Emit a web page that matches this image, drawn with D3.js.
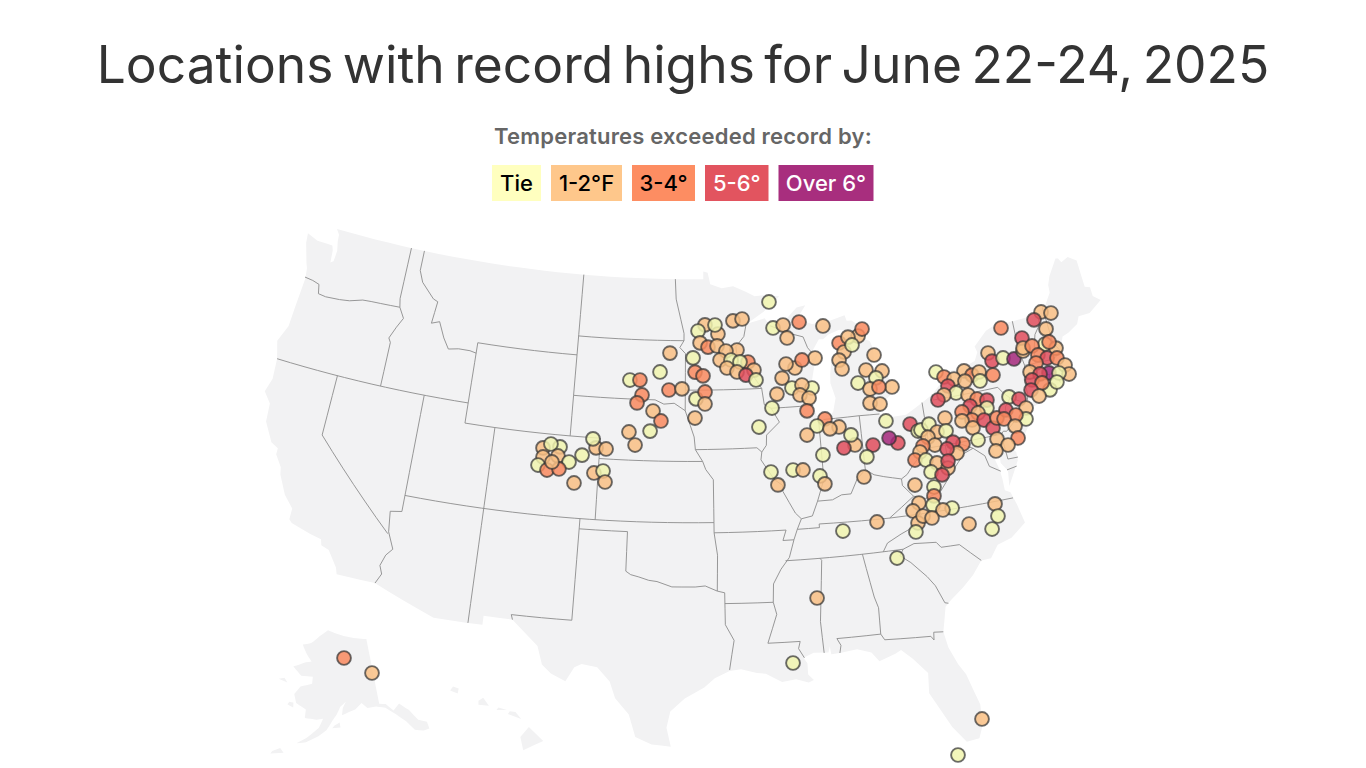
<!DOCTYPE html>
<html>
<head>
<meta charset="utf-8">
<script src="https://cdn.jsdelivr.net/npm/d3@7"></script>
<style>
  html, body { margin: 0; background: #fff; overflow: hidden; }
  text { font-family: Inter, "Noto Sans", sans-serif; }
</style>
</head>
<body>
<svg id="chart" width="1366" height="768"></svg>
<script>
const legendLabels = ["Tie", "1-2°F", "3-4°", "5-6°", "Over 6°"];
const legendColors = ["#ffffbf", "#fec78b", "#fd8d62", "#e2545f", "#a82e7e"];
const legendInk = ["#000", "#000", "#000", "#fff", "#fff"];
// dots sit on the grey land and read a touch darker than the legend chips
const dotColors = ["#f1f5ae", "#f9bf84", "#f98a5e", "#e04e5c", "#a5287a"];

const lower48Coast = [[-124.73,48.38],[-123.9,48.16],[-123.15,48.15],[-122.75,48.14],[-122.62,47.9],[-122.55,47.3],[-122.35,47.4],[-122.3,47.95],[-122.45,48.4],[-122.5,48.75],[-122.76,49],
[-95.15,49],[-95.15,49.38],[-94.82,49.32],[-94.64,48.74],[-93.8,48.53],[-92.95,48.62],[-92,48.3],[-91.4,48.07],[-90.75,48.1],[-89.6,48],
[-90.8,47.28],[-92.05,46.72],[-91.2,46.87],[-90.75,46.95],[-90.4,46.57],[-89.2,46.85],[-88.4,47.38],[-87.75,47.45],[-88.45,46.8],[-87.4,46.5],[-86.5,46.5],[-85.5,46.68],[-85,46.77],[-84.9,46.48],[-84.55,46.46],[-84.1,46.2],[-83.9,45.97],[-84.7,45.95],[-85.5,46.08],[-86.3,45.9],[-86.7,45.7],[-87,45.72],[-87.6,45.1],[-88,44.55],[-87.35,44.9],[-87.05,45.25],[-87.5,44.4],[-87.75,43.7],[-87.9,43.05],[-87.8,42.5],[-87.6,41.85],[-87.4,41.63],[-86.9,41.72],[-86.5,42.1],[-86.25,42.75],[-86.5,43.5],[-86.45,43.95],[-86.25,44.7],[-85.95,44.9],[-85.6,45],[-85.35,45.3],[-85.05,45.6],[-84.75,45.78],[-84.2,45.63],[-83.45,45.35],[-83.3,45],[-83.3,44.4],[-83.85,43.95],[-83.9,43.65],[-83.4,43.95],[-82.95,44.07],[-82.6,43.85],[-82.42,43],[-82.5,42.6],[-83.1,42.25],[-83.45,41.72],[-82.7,41.5],[-81.7,41.5],[-80.5,41.97],[-79.76,42.27],[-78.9,42.85],[-79.05,43.27],[-77.5,43.27],[-76.5,43.5],[-76.2,43.9],[-76.3,44.2],[-75.3,44.85],[-74.7,45],[-71.5,45.01],[-71.4,45.25],[-71,45.3],[-70.8,45.4],[-70.3,45.9],[-70.25,46.3],[-70,46.7],[-69.23,47.46],[-69.05,47.42],[-68.9,47.2],[-68.35,47.36],[-67.8,47.07],[-67.8,45.7],[-67.45,45.6],[-67.45,45.15],[-67,44.85],
[-68,44.4],[-68.8,44.4],[-69.05,44.05],[-69.8,43.75],[-70.25,43.65],[-70.6,43.1],[-70.8,42.85],[-70.6,42.65],[-71,42.3],[-70.65,41.95],[-70,41.8],[-70,42.05],[-70.2,42.07],[-69.95,41.67],[-70.65,41.55],[-71.15,41.5],[-71.4,41.45],[-71.85,41.32],[-72.9,41.25],[-73.65,40.98],[-74,40.7],[-73.75,40.85],[-72.6,40.98],[-72.3,41.15],[-71.87,41.07],[-72.5,40.82],[-73.9,40.58],[-74,40.45],[-74,39.75],[-74.4,39.35],[-74.9,38.93],[-75.15,39.2],[-75.55,39.6],[-75.4,39.1],[-75.08,38.7],[-75.1,38.3],[-75.97,37.15],[-75.85,37.9],[-76.2,38.35],[-76.1,39.35],[-76.45,39.2],[-76.5,38.5],[-76.35,38.05],[-76.3,37.55],[-76.3,37],[-75.98,36.85],[-75.75,36.2],[-75.5,35.25],[-76.5,34.65],[-77.4,34.45],[-77.95,33.87],[-78.55,33.85],[-79.2,33.2],[-79.9,32.7],[-80.7,32.2],[-81.1,31.9],[-81.3,31.2],[-81.45,30.7],[-81.3,29.9],[-80.9,29],[-80.55,28.45],[-80.05,26.85],[-80.12,25.8],[-80.4,25.2],[-81.1,25.13],[-81.75,25.95],[-82.15,26.7],[-82.75,27.8],[-82.65,28.8],[-83.4,29.6],[-84,30.1],[-84.35,29.95],[-85.3,29.68],[-85.7,30.15],[-86.5,30.38],[-87.5,30.28],[-88,30.25],[-88.05,30.65],[-88.15,30.35],[-89,30.4],[-89.6,30.18],[-89.4,29.9],[-89.4,29.35],[-89.1,29.05],[-89.4,28.95],[-90.1,29.15],[-90.9,29.05],[-91.8,29.5],[-92.3,29.55],[-93.2,29.77],[-93.85,29.7],[-94.7,29.35],[-95.3,28.9],[-96.4,28.35],[-97.2,27.7],[-97.4,26.9],[-97.15,25.95],
[-98.2,26.05],[-99.1,26.4],[-99.5,27.5],[-100.3,28.28],[-100.65,29.1],[-101.4,29.77],[-102.3,29.88],[-102.7,29.7],[-103.15,28.98],[-104,29.3],[-104.55,29.7],[-104.9,30.6],[-106.5,31.76],[-108.2,31.78],[-108.2,31.33],[-111.07,31.33],[-114.81,32.5],[-117.12,32.53],
[-117.25,32.85],[-117.9,33.6],[-118.4,33.75],[-118.5,34.03],[-119.2,34.15],[-120.45,34.45],[-120.65,34.6],[-120.65,35.15],[-121.3,35.7],[-121.9,36.6],[-122,36.95],[-122.5,37.5],[-122.5,37.8],[-123,38],[-123.7,38.9],[-123.8,39.8],[-124.35,40.3],[-124.1,41],[-124.2,42],[-124.55,42.85],[-124.1,43.7],[-124.05,44.7],[-123.95,46.2],[-124.05,46.7],[-124.2,46.95],[-124.65,47.9]];

const alaskaCoast = [[-130,55],[-130,56],[-131.9,56.7],[-133.4,58.4],[-135.5,59.7],[-137.5,58.95],[-139.2,60.1],[-141,60.3],[-141,69.65],[-145,70],[-150,70.5],[-156.6,71.35],[-160,70.4],[-163,69.3],[-166.2,68.9],[-164,67.6],[-162,66.7],[-164,66.5],[-168,65.6],[-164.8,64.5],[-161,64.6],[-161,63.6],[-164.5,63],[-166,61.8],[-165,60.6],[-162,59.9],[-162,58.7],[-158.8,58.6],[-157,58.8],[-158,57.5],[-161,55.9],[-163.3,55],[-161,55.3],[-158,56.3],[-156,57.2],[-154.5,58.5],[-153.3,59.4],[-152.2,60.5],[-150.5,61.2],[-151.5,60.3],[-151.8,59.3],[-149.8,59.7],[-148,60],[-146,60.8],[-144.5,60],[-142,60],[-139.5,59.6],[-137,58.3],[-135,57],[-133.5,55.5],[-131.5,55]];
const otherIslands = [
  [[-154.5,57.5],[-152.3,57.6],[-152.5,58.3],[-153.8,57.9]],
  [[-167.4,60.2],[-165.6,59.9],[-165.8,60.6],[-167,60.6]],
  [[-171.7,63.4],[-168.8,63.2],[-170,63.75]],
  [[-169,52.9],[-166,53.4],[-167,53.95],[-168.7,53.3]],
  [[-155.9,19.1],[-154.85,19.55],[-155.6,20.25],[-156.05,19.75]],
  [[-156.7,20.9],[-156,20.65],[-156.3,21],[-156.6,21.03]],
  [[-157.3,21.1],[-156.75,21.1],[-157.2,21.22]],
  [[-158.25,21.35],[-157.7,21.3],[-158,21.7],[-158.25,21.55]],
  [[-159.75,22.05],[-159.35,21.9],[-159.3,22.15],[-159.6,22.25]]
];

const stateBorders = [
  [[-124,46.25],[-123.4,46.2],[-122.9,46.1],[-122.75,45.65],[-122.2,45.6],[-121.2,45.65],[-120.5,45.72],[-119.6,45.92],[-119,45.95],[-116.92,46]],
  [[-117.04,49],[-117.04,46.42],[-116.92,46],[-116.5,45.5],[-116.85,45],[-117.2,44.4],[-117.03,44.2],[-117.03,42]],
  [[-124.2,42],[-111.05,42]],
  [[-116.05,49],[-116.05,48],[-115.7,47.45],[-114.7,46.75],[-114.35,46.65],[-114.5,45.55],[-113.95,45.7],[-113.45,44.95],[-113,44.45],[-112.3,44.55],[-111.5,44.55],[-111.05,44.48]],
  [[-111.05,45],[-104.05,45]],[[-111.05,45],[-111.05,41],[-104.05,41]],
  [[-104.05,49],[-104.05,41]],[[-104.05,45.94],[-96.56,45.94]],
  [[-104.05,43],[-98.5,43],[-97.9,42.8],[-97.2,42.85],[-96.45,42.49]],
  [[-104.05,41],[-102.05,41],[-102.05,37]],[[-102.05,40],[-95.3,40]],
  [[-114.04,42],[-114.04,36.2],[-114.75,36.1],[-114.6,35.1],[-114.15,34.3],[-114.5,33.95],[-114.72,33.4],[-114.52,33],[-114.8,32.5]],
  [[-109.05,41],[-109.05,31.33]],[[-114.04,37],[-94.62,37]],
  [[-120,42],[-120,39],[-114.63,35]],
  [[-103,37],[-103.04,32],[-106.6,32],[-106.5,31.76]],
  [[-103,36.5],[-100,36.5],[-100,34.56],[-99.7,34.4],[-99.2,34.3],[-98.6,34.15],[-98.1,34.1],[-97.2,33.85],[-96.6,33.85],[-95.8,33.85],[-95.2,33.9],[-94.48,33.64]],
  [[-94.62,37],[-94.62,36.5],[-94.43,35.4],[-94.48,33.64],[-94.04,33.55],[-94.04,31.98],[-93.55,31.2],[-93.7,30.5],[-93.85,29.75]],
  [[-94.04,33.02],[-91.17,33]],[[-94.62,36.5],[-90.15,36.5],[-90.38,36],[-89.7,36]],
  [[-94.62,37],[-94.62,39.1],[-95.1,39.6],[-95.3,40],[-95.77,40.58],[-95.85,41.2],[-96.1,41.75],[-96.45,42.49],[-96.45,45.3],[-96.85,45.6],[-96.56,45.94],[-96.56,46.3],[-96.8,47],[-97.15,48],[-97.23,49]],
  [[-95.77,40.58],[-91.73,40.6],[-91.42,40.38]],[[-96.45,43.5],[-91.22,43.5]],
  [[-92.1,46.72],[-92.3,46.1],[-92.9,45.6],[-92.75,44.75],[-91.9,44.3],[-91.22,43.5],[-91.1,42.7],[-90.65,42.5],[-90.15,41.8],[-91.05,41.2],[-91.1,40.7],[-91.42,40.38],[-91.5,40],[-90.7,39],[-90.2,38.7],[-90.2,38.4],[-89.5,37.3],[-89.15,37],[-89.45,36.5],[-89.7,36],[-90.05,35.15],[-90.6,34.6],[-91.1,33.9],[-91.17,33],[-91,32.4],[-91.6,31],[-89.73,31],[-89.85,30.65],[-89.55,30.18]],
  [[-90.65,42.5],[-87.8,42.5]],[[-90.4,46.57],[-89.1,46.14],[-88.1,45.9],[-87.85,45.35],[-87.6,45.1]],
  [[-87.53,41.7],[-87.53,39.35],[-87.6,38.7],[-87.95,38],[-88.05,37.8]],
  [[-89.15,37],[-88.45,37.1],[-88.05,37.8],[-87.1,37.8],[-86.5,38],[-85.9,38],[-85.4,38.7],[-84.82,39.1],[-84.3,38.8],[-83.7,38.65],[-82.6,38.42],[-82.2,38.6],[-81.75,39],[-81,39.55],[-80.85,39.7],[-80.52,40.64]],
  [[-84.82,39.1],[-84.8,41.76]],[[-87.2,41.76],[-84.8,41.76],[-83.45,41.72]],
  [[-80.52,39.72],[-80.52,41.97]],[[-79.76,42.27],[-79.76,42],[-75.35,42],[-75.05,41.65],[-74.7,41.36],[-75.13,40.98],[-75.2,40.65],[-74.75,40.2],[-75.4,39.8]],
  [[-74.7,41.36],[-73.9,41]],[[-80.52,39.72],[-75.79,39.72],[-75.6,39.84],[-75.4,39.8]],
  [[-79.48,39.72],[-79.48,39.2],[-78.4,39.6],[-77.75,39.32],[-77.1,38.85],[-76.95,38.3],[-76.3,37.95]],
  [[-82.6,38.42],[-82.6,38.1],[-82,37.5],[-81.3,37.3],[-80.3,37.5],[-79.3,38.4],[-78.4,39.15],[-77.75,39.32]],
  [[-82,37.5],[-83.67,36.6]],[[-89.45,36.5],[-88.07,36.5],[-88.07,36.68],[-83.67,36.6],[-81.68,36.59],[-75.9,36.55]],
  [[-90.3,35],[-83.1,35],[-82.4,35.2],[-81.05,35.1],[-80.8,34.82],[-79.68,34.8],[-78.55,33.85]],
  [[-81.68,36.59],[-82,36.1],[-83.1,35.75],[-84,35.4],[-84.32,35]],
  [[-88.2,35],[-88.1,34.9],[-88.47,31.9],[-88.4,30.35]],[[-85.6,35],[-85.18,32.85],[-85,32.3],[-85.05,31],[-84.86,30.7],[-82.2,30.57],[-82.05,30.37],[-82,30.75],[-81.45,30.7]],
  [[-87.6,31],[-85.05,31]],[[-87.6,31],[-87.4,30.65],[-87.5,30.28]],
  [[-83.1,35],[-83.35,34.7],[-82.75,34.3],[-81.9,33.5],[-81.5,33],[-81.1,32.1],[-80.9,32.05]],
  [[-73.35,45.01],[-73.4,43.6],[-73.25,42.75],[-73.5,42.05],[-73.5,41.3],[-73.65,41]],
  [[-73.25,42.75],[-71.3,42.7],[-70.82,42.87]],[[-73.5,42.05],[-71.38,42.02],[-71.2,41.5]],[[-71.8,42.02],[-71.85,41.32]],
  [[-71.5,45.01],[-71.6,44.5],[-72.05,44.1],[-72.4,43.3],[-72.46,42.73]],[[-71.08,45.3],[-71,43.5],[-70.7,43.07]],
  [[-75.79,39.72],[-75.7,38.46],[-75.05,38.45]],[[-75.9,37.95],[-75.25,38.03]]
];

// lon, lat, legend bucket; list order is draw order
const locations = [
[-97.54,45.32,1],[-98.21,44.38,0],[-100.27,43.93,0],[-99.58,43.95,2],[-99.40,43.22,2],[-99.72,42.82,2],[-97.57,43.50,2],[-96.68,43.56,1],[-98.62,42.45,1],[-98.07,41.97,2],
[-98.78,41.46,0],[-100.18,41.38,1],[-99.74,40.75,1],[-95.92,45.09,0],[-95.78,44.39,2],[-95.23,44.20,2],[-95.72,43.07,0],[-95.10,43.41,2],[-95.11,42.82,1],[-95.79,42.13,1],
[-95.06,46.72,1],[-95.56,46.42,0],[-94.14,46.26,1],[-94.34,46.71,0],[-93.04,46.89,1],[-92.38,46.97,1],[-95.42,45.83,1],[-94.86,45.62,2],[-94.22,45.67,1],[-92.82,45.44,1],
[-93.60,45.41,1],[-94.03,44.97,1],[-93.26,44.96,0],[-92.08,44.83,2],[-92.64,44.85,0],[-93.56,44.57,1],[-92.87,44.36,1],[-91.69,44.42,1],[-92.26,44.19,3],[-91.58,43.93,0],
[-105.75,40.29,1],[-104.65,40.42,0],[-105.26,40.52,0],[-105.69,39.85,1],[-104.73,39.97,1],[-105.96,39.43,0],[-103.98,39.72,0],[-105.35,39.23,2],[-104.59,39.34,2],[-105.08,39.65,1],
[-103.17,40.11,0],[-102.29,40.51,1],[-102.53,40.94,0],[-101.63,40.49,1],[-102.32,39.28,1],[-101.74,39.40,0],[-101.57,38.87,1],[-103.55,38.72,1],[-90.37,47.75,0],[-90.19,46.45,0],
[-89.46,46.56,1],[-88.30,46.65,2],[-86.62,46.35,1],[-89.24,45.91,1],[-84.22,45.66,1],[-83.88,45.98,2],[-85.61,45.43,2],[-84.94,45.67,1],[-85.33,44.96,1],[-84.72,45.26,0],
[-85.74,44.59,1],[-85.60,44.14,1],[-83.28,44.63,1],[-87.39,44.81,1],[-88.84,44.40,1],[-89.44,44.63,1],[-88.31,44.77,2],[-83.97,43.95,1],[-82.88,43.80,1],[-83.36,43.50,0],
[-84.62,43.36,0],[-83.86,43.00,1],[-82.36,42.95,1],[-83.24,43.04,2],[-83.98,42.31,1],[-83.32,42.20,1],[-89.78,43.95,1],[-89.15,43.43,0],[-87.78,43.35,0],[-88.45,43.54,1],
[-90.20,43.18,1],[-88.64,43.06,1],[-88.04,42.87,1],[-88.25,42.25,2],[-90.59,42.51,0],[-91.53,41.61,0],[-83.08,41.34,0],[-81.53,41.02,3],[-81.08,40.62,0],[-87.10,41.78,2],
[-86.22,41.32,1],[-87.67,41.47,0],[-86.83,41.27,1],[-88.38,41.07,1],[-85.30,40.36,1],[-85.49,40.87,0],[-86.04,40.27,3],[-84.13,40.25,3],[-82.50,40.19,3],[-83.03,40.49,4],
[-87.45,40.03,0],[-84.62,39.71,0],[-90.89,39.38,0],[-89.46,39.41,0],[-88.82,39.38,1],[-90.49,38.73,1],[-87.76,39.02,0],[-87.49,38.61,1],[-84.96,38.75,1],[-75.49,43.75,1],
[-75.34,43.32,3],[-74.56,43.35,0],[-73.85,43.18,4],[-73.12,43.46,1],[-79.24,43.33,0],[-78.76,43.02,2],[-77.35,43.13,1],[-76.87,42.85,2],[-76.36,42.93,1],[-75.48,42.64,2],
[-78.12,42.83,1],[-77.42,42.63,1],[-76.42,42.49,0],[-78.61,42.55,3],[-78.16,42.14,0],[-78.98,42.15,1],[-79.44,41.96,3],[-77.40,41.93,1],[-76.86,41.65,2],[-74.75,41.42,0],
[-76.23,41.50,3],[-74.14,41.21,3],[-76.34,41.12,0],[-77.41,41.38,3],[-78.01,41.17,2],[-76.98,40.97,1],[-77.46,40.69,2],[-78.12,40.74,1],[-77.50,40.30,1],[-76.69,40.57,3],
[-76.22,40.10,3],[-75.83,40.54,2],[-75.14,40.83,3],[-73.82,40.70,1],[-73.99,40.18,0],[-74.57,40.48,2],[-75.39,40.42,2],[-74.79,39.96,1],[-74.77,39.36,2],[-76.11,39.53,1],
[-75.50,39.13,1],[-76.34,38.97,1],[-77.33,39.67,0],[-79.19,41.03,1],[-80.88,40.65,0],[-80.30,40.87,0],[-79.86,40.42,1],[-79.27,40.40,0],[-80.50,40.25,1],[-80.14,39.81,1],
[-80.92,39.86,2],[-78.34,39.62,2],[-78.95,39.80,3],[-78.82,39.24,1],[-79.41,39.52,3],[-81.17,39.59,1],[-81.57,39.24,2],[-80.87,39.16,0],[-80.20,38.93,1],[-79.56,38.59,1],
[-79.48,38.93,3],[-80.67,38.54,0],[-80.01,38.31,3],[-81.81,38.03,1],[-71.24,45.10,1],[-70.59,44.92,1],[-71.86,44.81,3],[-71.21,44.23,1],[-74.23,44.81,2],[-71.54,43.52,0],
[-70.89,43.19,1],[-71.24,43.57,2],[-72.98,44.09,3],[-73.07,43.60,1],[-72.44,43.59,2],[-72.20,43.09,2],[-71.65,42.83,3],[-71.00,42.71,2],[-72.46,42.73,2],[-70.60,42.27,1],
[-70.50,41.79,1],[-71.78,42.10,4],[-71.13,41.97,0],[-73.00,42.37,1],[-72.38,42.16,3],[-72.00,41.28,0],[-71.42,41.57,0],[-73.00,41.97,3],[-72.40,41.71,2],[-73.22,41.50,3],
[-72.80,41.12,1],[-80.64,37.79,0],[-80.73,37.36,2],[-81.73,37.13,1],[-82.17,36.79,1],[-79.74,36.63,0],[-80.88,36.93,0],[-80.32,36.61,1],[-81.97,36.17,1],[-81.60,36.47,1],
[-81.07,36.31,1],[-82.18,35.75,0],[-78.88,35.71,1],[-77.07,36.44,1],[-77.04,35.83,0],[-77.55,35.26,0],[-83.54,34.61,0],[-84.48,36.49,1],[-86.64,36.23,0],[-88.56,33.07,1],
[-90.22,29.96,0],[-80.09,26.13,1],[-81.68,24.54,0],[-150.37,67.36,2],[-141.35,64.76,1]];

const svg = d3.select("#chart");
const projection = d3.geoAlbersUsa().scale(1159).translate([682.5, 488]);

// long edges follow the parallels, so step along them before projecting
function densify(coords) {
  const out = [];
  for (let i = 0; i < coords.length - 1; i++) {
    const a = coords[i], b = coords[i + 1];
    const n = Math.ceil(Math.max(Math.abs(a[0] - b[0]), Math.abs(a[1] - b[1])));
    for (let j = 0; j < n; j++) {
      out.push([a[0] + (b[0] - a[0]) * j / n, a[1] + (b[1] - a[1]) * j / n]);
    }
  }
  out.push(coords[coords.length - 1]);
  return out;
}
const line = d3.line();
function pathFor(coords, closed) {
  const pts = densify(closed ? coords.concat([coords[0]]) : coords).map(projection).filter(Boolean);
  return line(pts) + (closed ? "Z" : "");
}

svg.append("g").selectAll("path")
  .data([lower48Coast, alaskaCoast].concat(otherIslands))
  .join("path")
  .attr("d", d => pathFor(d, true))
  .attr("fill", "#f2f2f3");

svg.append("g").selectAll("path")
  .data(stateBorders)
  .join("path")
  .attr("d", d => pathFor(d, false))
  .attr("fill", "none")
  .attr("stroke", "#8c8c8c")
  .attr("stroke-width", 0.9);

const color = d3.scaleOrdinal().domain(d3.range(dotColors.length)).range(dotColors);

svg.append("g").selectAll("circle")
  .data(locations)
  .join("circle")
  .attr("transform", d => "translate(" + projection(d) + ")")
  .attr("r", 6.9)
  .attr("fill", d => color(d[2]))
  .attr("fill-opacity", 0.85)
  .attr("stroke", "#333")
  .attr("stroke-opacity", 0.72)
  .attr("stroke-width", 1.9);

svg.append("text")
  .attr("x", 683).attr("y", 83)
  .attr("text-anchor", "middle")
  .attr("font-size", 51.5)
  .attr("word-spacing", -5)
  .attr("fill", "#333")
  .text("Locations with record highs for June 22-24, 2025");

svg.append("text")
  .attr("x", 683).attr("y", 144)
  .attr("text-anchor", "middle")
  .attr("font-size", 22)
  .attr("letter-spacing", 0.2)
  .attr("font-weight", 600)
  .attr("fill", "#666")
  .text("Temperatures exceeded record by:");

const chipWidths = [49, 71, 63, 63.5, 95];
const chipGap = 10;
const chipX = i => 492 + d3.sum(chipWidths.slice(0, i)) + chipGap * i;
const chips = svg.append("g").selectAll("g").data(legendLabels).join("g");
chips.append("rect")
  .attr("x", (d, i) => chipX(i))
  .attr("y", 165)
  .attr("width", (d, i) => chipWidths[i])
  .attr("height", 36)
  .attr("fill", (d, i) => legendColors[i]);
chips.append("text")
  .attr("x", (d, i) => chipX(i) + chipWidths[i] / 2)
  .attr("y", 191)
  .attr("text-anchor", "middle")
  .attr("font-size", 22)
  .attr("font-weight", 500)
  .attr("fill", (d, i) => legendInk[i])
  .text(d => d);
</script>
</body>
</html>
